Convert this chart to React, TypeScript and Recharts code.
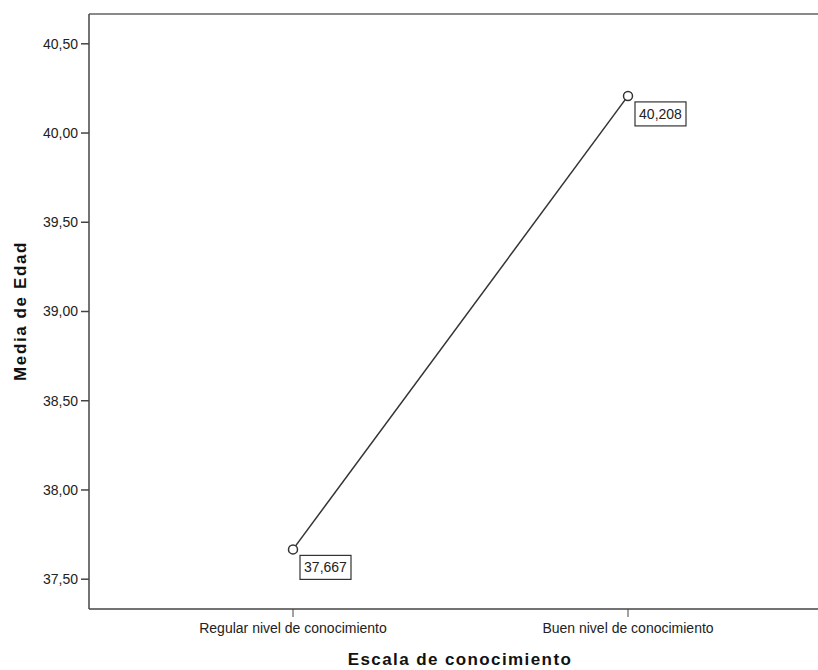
import { LineChart, Line, XAxis, YAxis } from "recharts";

const categories = ["Regular nivel de conocimiento", "Buen nivel de conocimiento"];
const meanAge = [37.667, 40.208];
const yTicks = [37.5, 38, 38.5, 39, 39.5, 40, 40.5];
const yDomain = [37.333, 40.667];

const data = categories.map((name, i) => ({ name, value: meanAge[i] }));

const fmt = (v: number, d: number) => v.toFixed(d).replace(".", ",");
const font = "'Liberation Sans', Arial, sans-serif";

function ValueBox(props: any) {
  const { x, y, value } = props;
  return (
    <g>
      <rect x={x + 7} y={y + 6} width={51} height={24} fill="#fff" stroke="#333" strokeWidth={1.2} />
      <text x={x + 32.5} y={y + 23} textAnchor="middle" fontSize={14} fontFamily={font} fill="#222">
        {fmt(value, 3)}
      </text>
    </g>
  );
}

export default function App() {
  return (
    <div
      style={{
        position: "absolute",
        left: 0,
        top: 0,
        width: 818,
        height: 670,
        overflow: "hidden",
        background: "#fff",
      }}
    >
      <LineChart width={818} height={670} data={data} margin={{ top: 13, right: 0, left: 0, bottom: 0 }}>
        <XAxis
          dataKey="name"
          padding={{ left: 204, right: 190 }}
          height={61}
          tickSize={8}
          tickMargin={6}
          axisLine={{ stroke: "#444", strokeWidth: 1.5 }}
          tickLine={{ stroke: "#444" }}
          tick={{ fontSize: 14, fontFamily: font, fill: "#222" }}
          interval={0}
          label={() => (
            <text
              x={460}
              y={665}
              textAnchor="middle"
              fontSize={17}
              fontWeight="bold"
              letterSpacing={1.4}
              fontFamily={font}
              fill="#111"
            >
              Escala de conocimiento
            </text>
          )}
        />
        {/* grey frame line along the top of the plot */}
        <XAxis
          xAxisId="top"
          dataKey="name"
          orientation="top"
          height={1}
          tick={false}
          tickLine={false}
          axisLine={{ stroke: "#8a8a8a", strokeWidth: 2 }}
        />
        <YAxis
          type="number"
          domain={yDomain}
          ticks={yTicks}
          allowDataOverflow
          width={89}
          tickSize={8}
          tickMargin={3}
          tickFormatter={(v: number) => fmt(v, 2)}
          axisLine={{ stroke: "#444", strokeWidth: 1.5 }}
          tickLine={{ stroke: "#444", strokeWidth: 1.5 }}
          tick={{ fontSize: 14, fontFamily: font, fill: "#222" }}
          label={() => (
            <text
              x={26}
              y={311}
              transform="rotate(-90, 26, 311)"
              textAnchor="middle"
              fontSize={17}
              fontWeight="bold"
              letterSpacing={1.6}
              fontFamily={font}
              fill="#111"
            >
              Media de Edad
            </text>
          )}
        />
        <Line
          dataKey="value"
          stroke="#333"
          strokeWidth={1.5}
          dot={{ r: 4.5, stroke: "#333", strokeWidth: 1.5, fill: "#fff" }}
          isAnimationActive={false}
          label={<ValueBox />}
        />
      </LineChart>
    </div>
  );
}
